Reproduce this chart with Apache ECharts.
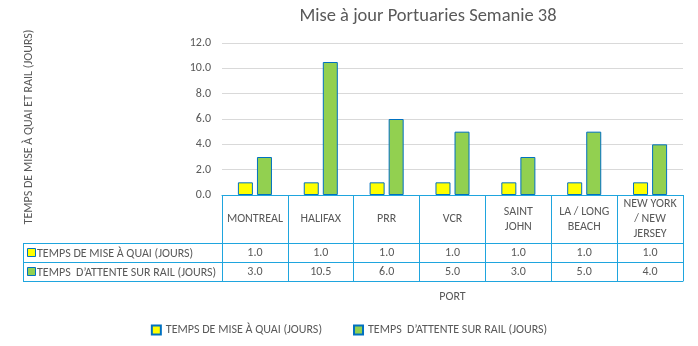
<!DOCTYPE html>
<html><head><meta charset="utf-8">
<script src="https://cdn.jsdelivr.net/npm/echarts@6/dist/echarts.min.js"></script>
<style>html,body{margin:0;padding:0;background:#fff}#c{width:698px;height:346px}</style>
</head><body><div id="c"></div>
<script>
var categories = ['MONTREAL','HALIFAX','PRR','VCR','SAINT\nJOHN','LA / LONG\nBEACH','NEW YORK\n/ NEW\nJERSEY'];
var quai = [1.0, 1.0, 1.0, 1.0, 1.0, 1.0, 1.0];
var rail = [3.0, 10.5, 6.0, 5.0, 3.0, 5.0, 4.0];
var seriesNames = ['TEMPS DE MISE À QUAI (JOURS)', 'TEMPS  D\u2019ATTENTE SUR RAIL (JOURS)'];
var yTicks = [0, 2, 4, 6, 8, 10, 12];

var FONT = 'Carlito';
var FS = 12;
var TXT = '#595959';
var LINE = '#1FA5DE';
var GL = 222, GR = 683, GT = 43, GB = 195;
var HEAD = 48, ROW = 19;

var chart = echarts.init(document.getElementById('c'), null, {renderer:'canvas'});
function rowAxis(offset, data, show, name) {
  return {
    type:'category', data:data, position:'bottom', offset:offset, gridIndex:0,
    axisLine:{show:true, lineStyle:{color:LINE, width:1}},
    axisTick:{show:false},
    axisLabel:{show:show, interval:0, color:TXT, fontFamily:FONT, fontSize:FS, margin:ROW/2, verticalAlign:'middle'},
    name:name||'', nameLocation:'middle', nameGap:10,
    nameTextStyle:{color:TXT, fontFamily:FONT, fontSize:FS}
  };
}
var fmt = function(v){return v.toFixed(1);};
var option = {
  backgroundColor:'#fff',
  animation:false,
  title:{text:'Mise à jour Portuaries Semanie 38', left:423, top:2, textAlign:'center',
    textStyle:{color:TXT, fontFamily:FONT, fontSize:18.5, fontWeight:'normal'}},
  grid:{left:GL, right:698-GR, top:GT, bottom:346-GB, containLabel:false},
  legend:{top:319, left:'center', itemWidth:9, itemHeight:9, itemGap:31, icon:'rect',
    textStyle:{color:TXT, fontFamily:FONT, fontSize:FS}, data:seriesNames},
  xAxis:[
    {type:'category', data:categories, position:'bottom',
     axisLine:{show:true, lineStyle:{color:LINE, width:1}},
     axisTick:{show:true, length:HEAD+2*ROW, interval:0, lineStyle:{color:LINE, width:1}},
     axisLabel:{interval:0, color:TXT, fontFamily:FONT, fontSize:FS, margin:HEAD/2, verticalAlign:'middle', lineHeight:15, align:'center'}},
    rowAxis(HEAD, quai.map(fmt), true),
    rowAxis(HEAD+ROW, rail.map(fmt), true),
    rowAxis(HEAD+2*ROW, categories.map(function(c,i){return 'r'+i;}), false, 'PORT')
  ],
  yAxis:{type:'value', min:yTicks[0], max:yTicks[yTicks.length-1], interval:2,
    axisLine:{show:false}, axisTick:{show:false},
    axisLabel:{color:TXT, fontFamily:FONT, fontSize:FS, margin:11, formatter:fmt},
    splitLine:{lineStyle:{color:'#D9D9D9', width:1}}},
  series:[
    {name:seriesNames[0], type:'bar', data:quai, barWidth:15, barGap:'27%',
     itemStyle:{color:'#FFFF00', borderColor:'#0070C0', borderWidth:1}},
    {name:seriesNames[1], type:'bar', data:rail, barWidth:15, barGap:'27%',
     itemStyle:{color:'#92D050', borderColor:'#0070C0', borderWidth:1}}
  ],
  graphic:[
    {type:'text', x:29, y:127, rotation:Math.PI/2, style:{text:'TEMPS DE MISE À QUAI ET RAIL (JOURS)', fill:TXT, font:FS+'px "'+FONT+'"', align:'center', verticalAlign:'middle'}},
    {type:'line', shape:{x1:23, y1:GB+HEAD+0.5, x2:GL, y2:GB+HEAD+0.5}, style:{stroke:LINE, lineWidth:1}},
    {type:'line', shape:{x1:23, y1:GB+HEAD+ROW+0.5, x2:GL, y2:GB+HEAD+ROW+0.5}, style:{stroke:LINE, lineWidth:1}},
    {type:'line', shape:{x1:23, y1:GB+HEAD+2*ROW+0.5, x2:GL, y2:GB+HEAD+2*ROW+0.5}, style:{stroke:LINE, lineWidth:1}},
    {type:'line', shape:{x1:23.5, y1:GB+HEAD, x2:23.5, y2:GB+HEAD+2*ROW+1}, style:{stroke:LINE, lineWidth:1}},
    {type:'rect', shape:{x:27.5, y:GB+HEAD+5.5, width:8, height:8}, style:{fill:'#FFFF00', stroke:'#0070C0', lineWidth:1}},
    {type:'rect', shape:{x:27.5, y:GB+HEAD+ROW+5.5, width:8, height:8}, style:{fill:'#92D050', stroke:'#0070C0', lineWidth:1}},
    {type:'text', x:37, y:GB+HEAD+ROW/2+1, style:{text:seriesNames[0], fill:TXT, font:FS+'px "'+FONT+'"', verticalAlign:'middle'}},
    {type:'text', x:37, y:GB+HEAD+ROW*1.5+1, style:{text:seriesNames[1], fill:TXT, font:FS+'px "'+FONT+'"', verticalAlign:'middle'}}
  ]
};
chart.setOption(option);
</script></body></html>
